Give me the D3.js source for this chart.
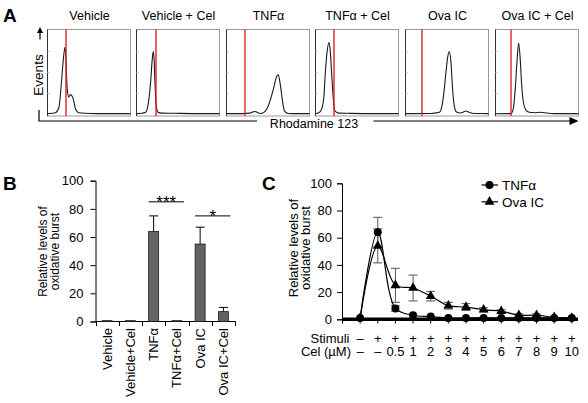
<!DOCTYPE html>
<html><head><meta charset="utf-8">
<script src="https://cdn.jsdelivr.net/npm/d3@7"></script>
<style>body{margin:0;background:#fff}svg{display:block}text{font-family:"Liberation Sans",Arial,sans-serif;fill:#000}</style>
</head><body>
<svg id="chart" width="588" height="403"></svg>
<script>
// ---------- DATA ----------
// Panel A: flow histograms, [channel % of axis, events % of full scale]
const histTitles = ["Vehicle", "Vehicle + Cel", "TNFα", "TNFα + Cel", "Ova IC", "Ova IC + Cel"];
const histVehicle = [[0,0.5],[5,0.8],[9.5,1.5],[13.8,8],[17,40],[19,64],[21,79],[22,69],[23.7,30],[25.7,20],[27.4,23],[29,22],[31,18],[33.7,6],[37.6,1.4],[45,0.8],[60,0.5],[80,0.5],[100,0.5]];
const histVehicleCel = [[0,0.5],[6,0.8],[11,2],[15,18],[17,37.6],[19,65],[20.2,74],[21.4,61],[22.1,41],[23.8,10],[26,2],[30,1],[45,0.8],[70,0.5],[100,0.5]];
const histTNF = [[0,0.5],[20,0.5],[28,1],[32,2.5],[34.5,3],[37,2],[40,0.6],[43,1],[46.5,3],[50.5,10],[54.4,22],[57.6,34],[59.5,42],[62.4,46.5],[64.3,38],[66.3,24],[68.3,10],[70.2,3],[74.3,0.6],[85,0.4],[100,0.4]];
const histTNFCel = [[0,0.5],[4,1.5],[7,5],[9.9,18],[11.9,50],[13.9,73],[16.3,85],[17.9,73],[19.8,42],[21.8,14],[23.8,3],[27.8,1],[40,0.8],[70,0.5],[100,0.5]];
const histOva = [[0,0.5],[30,0.6],[40.8,2],[44,10],[46.8,30],[48.8,50],[50.8,67],[52.8,74],[54.8,61],[56.7,30],[58.7,10],[61.5,2.4],[66.7,1.2],[70,2.5],[72.6,3.5],[76.6,2],[82.5,0.6],[100,0.5]];
const histOvaCel = [[0,0.3],[18.7,0.5],[21.4,6],[23.8,30],[25.8,61],[27.8,84],[29.8,65],[31.3,38],[33.3,16],[36.5,5],[40.5,2],[47,1.5],[54,2],[62,1.2],[70,0.5],[100,0.5]];
const histGates = [22.6, 23.8, 21.9, 21.8, 19.8, 18.7];
const histAxisX = "Rhodamine 123";
const histAxisY = "Events";

// Panel B: bar chart
const bCategories = ["Vehicle", "Vehicle+Cel", "TNFα", "TNFα+Cel", "Ova IC", "Ova IC+Cel"];
const bValues = [0.6, 0.6, 64, 0.6, 55, 7];
const bErrors = [0, 0, 11, 0, 12, 3];
const bTicks = [0, 20, 40, 60, 80, 100];
const bSig = [{from: "TNFα", to: "TNFα+Cel", label: "***", level: 85}, {from: "Ova IC", to: "Ova IC+Cel", label: "*", level: 75}];

// Panel C: dose response
const cIndex = [0,1,2,3,4,5,6,7,8,9,10,11,12];
const cStimuli = ["–","+","+","+","+","+","+","+","+","+","+","+","+"];
const cCel = ["–","–","0.5","1","2","3","4","5","6","7","8","9","10"];
const cTNF = [1, 64, 8, 3, 2, 1, 1, 1, 1, 1, 1, 1, 1];
const cTNFErr = [0, 11, 2, 0, 0, 0, 0, 0, 0, 0, 0, 0, 0];
const cOva = [1, 54, 25, 23, 17, 10, 9, 7, 6, 3, 3, 1.5, 1];
const cOvaErr = [0, 12.5, 12.5, 9.5, 3.5, 2.5, 2.5, 1.5, 1, 1, 1, 0, 0];
const cTicks = [0, 20, 40, 60, 80, 100];
const cSeries = ["TNFα", "Ova IC"];
const yLabel = ["Relative levels of", "oxidative burst"];

// ---------- DRAW ----------
const svg = d3.select("#chart");
const FONT = '"Liberation Sans",Arial,sans-serif';
const crisp = v => Math.round(v) + 0.5;

function panelLetter(t, x, y) {
  svg.append("text").attr("x", x).attr("y", y).attr("font-size", 19).attr("font-weight", "bold").text(t);
}

// ===== Panel A =====
panelLetter("A", 3, 21.5);
const hists = [histVehicle, histVehicleCel, histTNF, histTNFCel, histOva, histOvaCel];
const boxBand = d3.scaleBand().domain(histTitles).range([47.5, 580]).paddingInner(0.057).paddingOuter(0);
const boxTop = 29.5, boxBottom = 116, histBase = 114;
const hy = d3.scaleLinear().domain([0, 100]).range([histBase, histBase - 84.4]);
const gA = svg.append("g");
histTitles.forEach((t, i) => {
  const left = crisp(boxBand(t)) - 1, w = Math.round(boxBand.bandwidth());
  const hx = d3.scaleLinear().domain([0, 100]).range([left, left + w - 1]);
  const g = gA.append("g");
  g.append("rect").attr("x", left).attr("y", boxTop).attr("width", w - 1).attr("height", boxBottom - boxTop)
    .attr("fill", "none").attr("stroke", "#9a9a9a").attr("stroke-width", 1);
  g.append("line").attr("x1", left).attr("x2", left).attr("y1", boxTop).attr("y2", boxBottom)
    .attr("stroke", "#333").attr("stroke-width", 1);
  [25, 50, 75].forEach(v => g.append("line").attr("x1", left).attr("x2", left + 2)
    .attr("y1", crisp(hy(v))).attr("y2", crisp(hy(v))).attr("stroke", "#bbb"));
  const line = d3.line().x(d => hx(d[0])).y(d => hy(d[1])).curve(d3.curveMonotoneX);
  g.append("path").attr("d", line(hists[i])).attr("fill", "none").attr("stroke", "#1a1a1a").attr("stroke-width", 1.1);
  const gx = Math.round(hx(histGates[i]));
  g.append("line").attr("x1", gx).attr("x2", gx).attr("y1", boxTop).attr("y2", boxBottom)
    .attr("stroke", "#d8261f").attr("stroke-width", 1.4);
  gA.append("text").attr("x", left + w / 2).attr("y", 20).attr("text-anchor", "middle").attr("font-size", 12.5).text(t);
});
// axes of panel A
svg.append("text").attr("transform", "translate(37.8,75) rotate(-90)").attr("text-anchor", "middle")
  .attr("dy", "0.35em").attr("font-size", 13.5).text(histAxisY);
svg.append("line").attr("x1", 40).attr("x2", 40).attr("y1", 39.5).attr("y2", 32).attr("stroke", "#000").attr("stroke-width", 1.2);
svg.append("path").attr("d", "M40,27 L37,33 L43,33 Z").attr("fill", "#000");
svg.append("path").attr("d", "M39,110 L39,121 L257,121").attr("fill", "none").attr("stroke", "#000").attr("stroke-width", 1.2);
svg.append("text").attr("x", 314).attr("y", 127.5).attr("text-anchor", "middle").attr("font-size", 12.5).text(histAxisX);
svg.append("line").attr("x1", 373.5).attr("x2", 571).attr("y1", 121).attr("y2", 121).attr("stroke", "#000").attr("stroke-width", 1.2);
svg.append("path").attr("d", "M578.5,121 L569.5,117 L569.5,125 Z").attr("fill", "#000");

// ===== Panel B =====
panelLetter("B", 3, 190);
const xB = d3.scaleBand().domain(bCategories).range([95.5, 235]).padding(0);
const yB = d3.scaleLinear().domain([0, 100]).range([321.5, 180.7]);
const gB = svg.append("g");
gB.append("g").attr("transform", "translate(95.5,0)")
  .call(d3.axisLeft(yB).tickValues(bTicks).tickSize(5).tickPadding(7))
  .call(g => { g.select(".domain").attr("stroke", "#000"); g.selectAll("text").attr("font-size", 13).attr("font-family", FONT); });
gB.append("line").attr("x1", 95.5).attr("x2", 235.5).attr("y1", 321.5).attr("y2", 321.5).attr("stroke", "#000");
const bEdges = bCategories.map(c => xB(c)).concat([xB.range()[1]]);
bEdges.forEach(x => gB.append("line").attr("x1", crisp(x)).attr("x2", crisp(x)).attr("y1", 321.5).attr("y2", 326).attr("stroke", "#000"));
const barW = 10;
bCategories.forEach((c, i) => {
  const cx = xB(c) + xB.bandwidth() / 2;
  if (bErrors[i] > 0) {
    gB.append("line").attr("x1", cx).attr("x2", cx).attr("y1", yB(bValues[i])).attr("y2", yB(bValues[i] + bErrors[i])).attr("stroke", "#000");
    gB.append("line").attr("x1", cx - 4.5).attr("x2", cx + 4.5).attr("y1", yB(bValues[i] + bErrors[i])).attr("y2", yB(bValues[i] + bErrors[i])).attr("stroke", "#000");
  }
  gB.append("rect").attr("x", cx - barW / 2).attr("y", yB(bValues[i])).attr("width", barW)
    .attr("height", yB(0) - yB(bValues[i])).attr("fill", "#636363").attr("stroke", "#1a1a1a").attr("stroke-width", 0.8);
  gB.append("text").attr("transform", `translate(${cx},328) rotate(-90)`).attr("text-anchor", "end")
    .attr("dy", "0.35em").attr("font-size", 13).text(c);
});
bSig.forEach(s => {
  const x1 = xB(s.from) + xB.bandwidth() / 2 - barW / 2, x2 = xB(s.to) + xB.bandwidth() / 2 + barW / 2 + 2;
  const y = yB(s.level);
  gB.append("line").attr("x1", x1).attr("x2", x2).attr("y1", y).attr("y2", y).attr("stroke", "#000");
  gB.append("text").attr("x", (x1 + x2) / 2).attr("y", y + 6).attr("text-anchor", "middle").attr("font-size", 17).text(s.label);
});
yLabel.forEach((t, i) => {
  gB.append("text").attr("transform", `translate(${42.5 + i * 12.5},251.5) rotate(-90)`).attr("text-anchor", "middle")
    .attr("dy", "0.35em").attr("font-size", 12).text(t);
});

// ===== Panel C =====
panelLetter("C", 262, 190);
const xC = d3.scaleLinear().domain([-1, 12.35]).range([342.5, 578]);
const yC = d3.scaleLinear().domain([0, 100]).range([319.3, 183.3]);
const gC = svg.append("g");
gC.append("g").attr("transform", "translate(342,0)")
  .call(d3.axisLeft(yC).tickValues(cTicks).tickSize(5).tickPadding(5))
  .call(g => { g.select(".domain").attr("stroke", "#000"); g.selectAll("text").attr("font-size", 13).attr("font-family", FONT); });
[-1].concat(cIndex).forEach(i => gC.append("line").attr("x1", xC(i)).attr("x2", xC(i)).attr("y1", 319.3).attr("y2", 323.5).attr("stroke", "#000"));
gC.append("line").attr("x1", 342).attr("x2", 578).attr("y1", 319.3).attr("y2", 319.3).attr("stroke", "#000").attr("stroke-width", 3.5);

function errBars(vals, errs) {
  vals.forEach((v, i) => {
    if (!errs[i]) return;
    const x = xC(cIndex[i]), y1 = yC(v - errs[i]), y2 = yC(v + errs[i]);
    gC.append("line").attr("x1", x).attr("x2", x).attr("y1", y1).attr("y2", y2).attr("stroke", "#555");
    [y1, y2].forEach(y => gC.append("line").attr("x1", x - 4.5).attr("x2", x + 4.5).attr("y1", y).attr("y2", y).attr("stroke", "#555"));
  });
}
errBars(cOva, cOvaErr);
errBars(cTNF, cTNFErr);
const lineC = d3.line().x((d, i) => xC(cIndex[i])).y(d => yC(d)).curve(d3.curveCatmullRom.alpha(0.5));
gC.append("path").attr("d", lineC(cOva)).attr("fill", "none").attr("stroke", "#000").attr("stroke-width", 1.2);
gC.append("path").attr("d", lineC(cTNF)).attr("fill", "none").attr("stroke", "#000").attr("stroke-width", 1.2);
const tri = d3.symbol(d3.symbolTriangle, 42);
const circ = d3.symbol(d3.symbolCircle, 50);
cOva.forEach((v, i) => gC.append("path").attr("d", tri()).attr("transform", `translate(${xC(cIndex[i])},${yC(v)})`).attr("fill", "#000"));
cTNF.forEach((v, i) => gC.append("path").attr("d", circ()).attr("transform", `translate(${xC(cIndex[i])},${yC(v)})`).attr("fill", "#000"));

// row labels
gC.append("text").attr("x", 349.5).attr("y", 338.3).attr("dy", "0.35em").attr("text-anchor", "end").attr("font-size", 13).text("Stimuli");
gC.append("text").attr("x", 351).attr("y", 351.7).attr("dy", "0.35em").attr("text-anchor", "end").attr("font-size", 13).text("Cel (µM)");
cIndex.forEach((idx, i) => {
  gC.append("text").attr("x", xC(idx)).attr("y", 338.3).attr("dy", "0.35em").attr("text-anchor", "middle").attr("font-size", 13).text(cStimuli[i]);
  gC.append("text").attr("x", xC(idx)).attr("y", 351.7).attr("dy", "0.35em").attr("text-anchor", "middle").attr("font-size", 13).text(cCel[i]);
});
yLabel.forEach((t, i) => {
  gC.append("text").attr("transform", `translate(${293 + i * 12.5},248) rotate(-90)`).attr("text-anchor", "middle")
    .attr("dy", "0.35em").attr("font-size", 13).text(t);
});
// legend
cSeries.forEach((s, i) => {
  const y = 185 + i * 16.8;
  gC.append("line").attr("x1", 481.5).attr("x2", 498).attr("y1", y).attr("y2", y).attr("stroke", "#000").attr("stroke-width", 1.2);
  gC.append("path").attr("d", i === 0 ? circ() : tri()).attr("transform", `translate(489.5,${y})`).attr("fill", "#000");
  gC.append("text").attr("x", 502).attr("y", y).attr("dy", "0.35em").attr("font-size", 13.5).text(s);
});
</script>
</body></html>
